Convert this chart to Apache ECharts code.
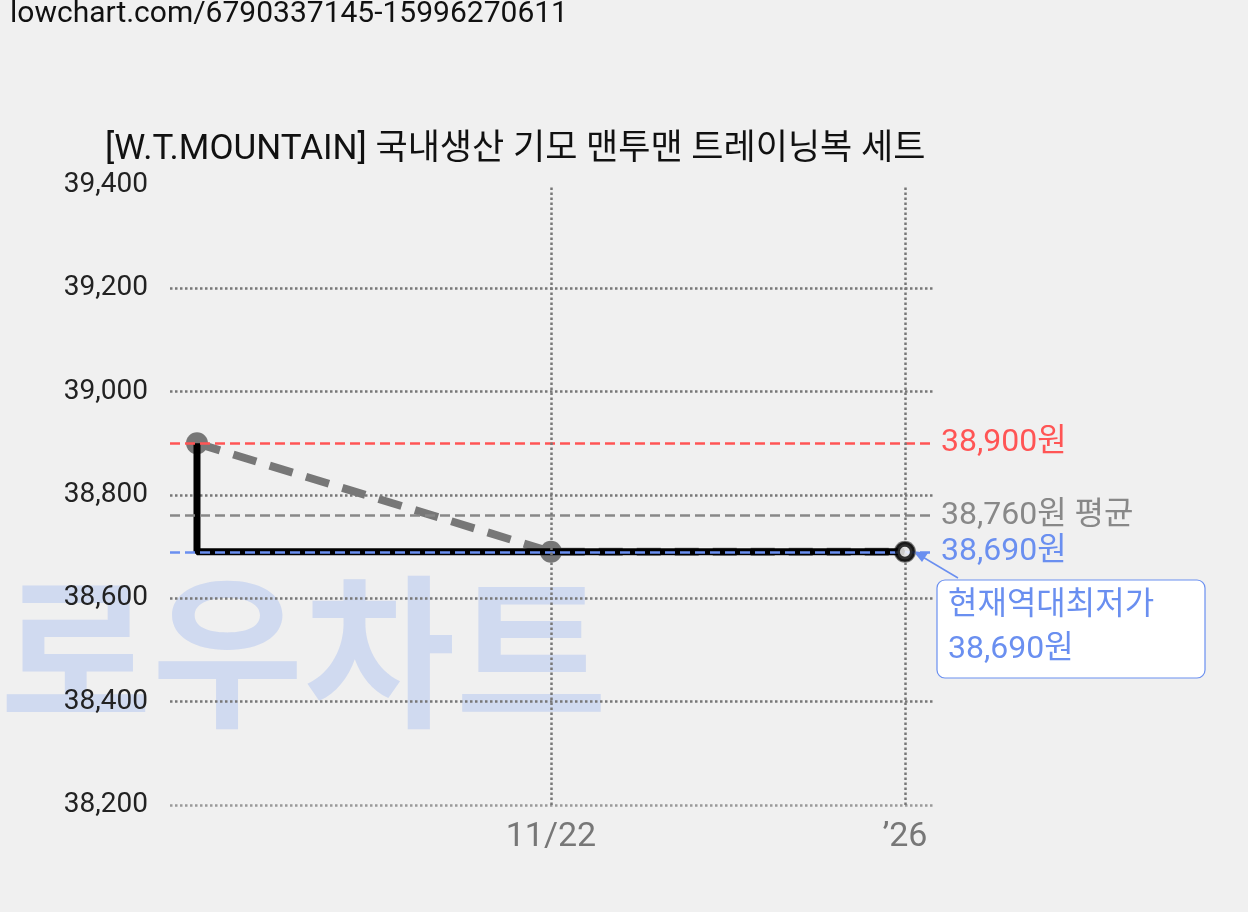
<!DOCTYPE html>
<html><head><meta charset="utf-8">
<script src="https://cdn.jsdelivr.net/npm/echarts@6/dist/echarts.min.js"></script>
<style>html,body{margin:0;background:#f0f0f0}#c{width:1248px;height:912px}</style>
</head><body><div id="c"></div>
<script>
// days since first observation (Oct 13): 0, 40 = 11/22, 80 = '26
const priceDays = [0, 0, 80];
const priceVals = [38900, 38690, 38690];
const trendDays = [0, 40, 80];
const trendVals = [38900, 38690, 38690];
const tickDays = [40, 80];
const tickLabels = ['11/22', '\u201926'];
const maxPrice = 38900, avgPrice = 38760, minPrice = 38690;
const F = 'Roboto, "Noto Sans CJK KR", sans-serif';
const chart = echarts.init(document.getElementById('c'));
chart.setOption({
  backgroundColor: '#f0f0f0',
  animation: false,
  textStyle: {fontFamily: F},
  graphic: [
    {type:'text', left: 10, top: 0, style:{text:'lowchart.com/6790337145-15996270611', font:'30px '+F, fill:'#111'}},
    {type:'text', left: 0, top: 590, z: -10, style:{text:'로우차트', font:'bold 165px '+F, fill:'rgba(160,185,240,0.4)'}},
    {type:'line', shape:{x1:958,y1:578,x2:916,y2:553}, style:{stroke:'#6a8ff0', lineWidth:1.5}},
    {type:'polygon', shape:{points:[[913,551],[928,553],[922,562]]}, style:{fill:'#6a8ff0'}},
    {type:'rect', shape:{x:937,y:580,width:268,height:98,r:8}, style:{fill:'#fff', stroke:'#6a8ff0', lineWidth:1.2}},
    {type:'text', left: 948, top: 584, style:{text:'현재역대최저가\n38,690원', font:'32px '+F, fill:'#6a8ff0', lineHeight:44}}
  ],
  title: {text:'[W.T.MOUNTAIN] 국내생산 기모 맨투맨 트레이닝복 세트', left: 100, top: 128,
    textStyle:{fontSize: 35, fontWeight:'normal', color:'#111', fontFamily:F}},
  grid: {left: 170, right: 313, top: 185, bottom: 107},
  xAxis: {type:'value', min:-3.05, max:83.4,
    axisLine:{show:false}, axisTick:{show:false}, splitLine:{show:false},
    axisLabel:{customValues: tickDays, fontSize: 34, margin: 16,
      formatter: v => tickLabels[tickDays.indexOf(v)] || '',
      color: v => v === 80 ? '#111' : '#777'}},
  yAxis: {type:'value', min:38200, max:39400, interval:200,
    axisLine:{show:false}, axisTick:{show:false},
    axisLabel:{fontSize: 28, color:'#222', margin: 22, formatter: v => v.toLocaleString('en-US')},
    splitLine:{lineStyle:{type:'dotted', color:['#999','#777','#777','#777','#777','#777','rgba(0,0,0,0)'], width:2.5}}},
  series: [
    {type:'line', data: trendDays.map((d,i)=>[d,trendVals[i]]), symbol:'circle', symbolSize:22,
     lineStyle:{color:'#777', width:8, type:[24,14]}, itemStyle:{color:'#777'}, z:3,
     markLine:{silent:true, symbol:'none',
       data:[
        {yAxis:maxPrice, lineStyle:{color:'#f55', type:'dashed', width:2.5}, label:{formatter:'38,900원', color:'#f55'}},
        {yAxis:avgPrice, lineStyle:{color:'#888', type:'dashed', width:2.5}, label:{formatter:'38,760원 평균', color:'#888'}},
        {yAxis:minPrice, lineStyle:{color:'#6a8ff0', type:'dashed', width:2.5}, label:{formatter:'38,690원', color:'#6a8ff0'}},
        {xAxis:40, lineStyle:{color:'#777', type:'dotted', width:2.5}, label:{show:false}},
        {xAxis:80, lineStyle:{color:'#777', type:'dotted', width:2.5}, label:{show:false}}
       ],
       label:{position:'end', fontSize:32, distance:6, fontFamily:F}}},
    {type:'line', data: priceDays.map((d,i)=>[d,priceVals[i]]), symbol:'none',
     lineStyle:{color:'#000', width:7}, z:4},
    {type:'scatter', data:[[80,38690]], symbol:'circle', symbolSize:15,
     itemStyle:{color:'#fff', borderColor:'#000', borderWidth:5}, z:6}
  ]
});
</script></body></html>
